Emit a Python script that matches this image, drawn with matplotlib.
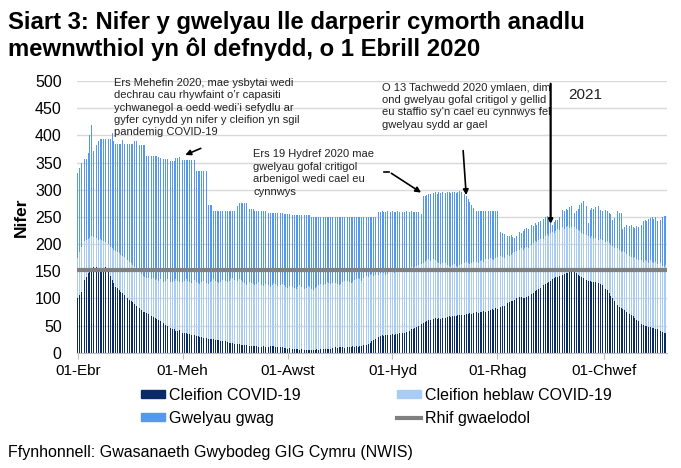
import matplotlib
matplotlib.use('Agg')
import matplotlib.pyplot as plt
from matplotlib.patches import Patch
from matplotlib.lines import Line2D
import numpy as np
import datetime as dt

plt.rcParams['font.family'] = ['Liberation Sans', 'DejaVu Sans']

# Daily values, 1 April 2020 onwards (one row per week)
start_date = dt.date(2020, 4, 1)

covid = [
    100, 106, 112, 122, 134, 140, 146,
    152, 156, 158, 155, 157, 154, 153,
    156, 155, 158, 164, 150, 142, 134,
    128, 122, 119, 116, 112, 110, 107,
    104, 101, 98, 95, 93, 90, 87,
    85, 82, 79, 76, 75, 73, 71,
    70, 68, 66, 65, 63, 61, 58,
    56, 55, 52, 49, 47, 45, 44,
    43, 41, 40, 42, 38, 37, 36,
    36, 35, 34, 33, 32, 33, 31,
    31, 30, 29, 28, 29, 27, 26,
    26, 25, 25, 24, 23, 24, 22,
    22, 21, 22, 20, 19, 19, 18,
    17, 17, 16, 16, 15, 15, 14,
    14, 13, 13, 12, 13, 12, 12,
    11, 12, 11, 12, 11, 10, 11,
    12, 13, 12, 11, 10, 11, 10,
    10, 9, 9, 8, 9, 8, 7,
    8, 7, 7, 6, 7, 6, 6,
    5, 6, 5, 6, 5, 6, 7,
    6, 7, 6, 7, 8, 7, 8,
    8, 9, 8, 10, 9, 10, 11,
    10, 9, 9, 10, 11, 10, 12,
    11, 12, 11, 13, 12, 14, 13,
    15, 17, 19, 22, 24, 26, 28,
    30, 31, 32, 31, 33, 32, 34,
    33, 34, 32, 35, 34, 36, 35,
    37, 36, 38, 39, 41, 43, 44,
    46, 47, 49, 51, 53, 55, 57,
    59, 61, 60, 63, 62, 64, 63,
    64, 63, 64, 66, 65, 66, 67,
    66, 68, 67, 68, 69, 70, 69,
    71, 70, 72, 71, 73, 72, 74,
    73, 75, 74, 76, 75, 77, 76,
    78, 77, 79, 80, 79, 82, 81,
    83, 85, 87, 86, 89, 91, 93,
    95, 96, 98, 100, 99, 103, 102,
    101, 100, 103, 105, 107, 109, 111,
    113, 115, 117, 119, 121, 124, 126,
    128, 130, 133, 135, 137, 139, 140,
    141, 142, 144, 145, 146, 147, 148,
    149, 150, 149, 147, 144, 141, 139,
    137, 136, 134, 133, 132, 131, 130,
    130, 129, 128, 126, 124, 121, 118,
    115, 110, 105, 100, 95, 90, 88,
    85, 82, 80, 78, 76, 74, 72,
    70, 67, 64, 61, 58, 55, 53,
    51, 50, 49, 48, 47, 46, 45,
    44, 43, 41, 40, 38, 37, 36,
]

# all patients in these beds (COVID-19 + non COVID-19)
all_patients = [
    175, 185, 195, 200, 205, 208, 210,
    212, 214, 213, 210, 212, 208, 210,
    208, 206, 204, 206, 200, 195, 192,
    190, 188, 185, 183, 180, 178, 176,
    174, 170, 168, 165, 162, 158, 155,
    150, 148, 145, 142, 140, 138, 137,
    136, 135, 137, 134, 136, 133, 135,
    134, 130, 132, 135, 133, 130, 131,
    133, 135, 132, 130, 128, 131, 133,
    135, 132, 130, 128, 131, 134, 130,
    128, 126, 130, 133, 131, 129, 127,
    130, 132, 135, 133, 130, 128, 131,
    134, 136, 133, 130, 132, 135, 137,
    134, 131, 133, 136, 134, 130, 128,
    125, 128, 131, 129, 126, 124, 127,
    130, 128, 125, 123, 126, 128, 125,
    122, 125, 128, 126, 123, 121, 124,
    127, 125, 122, 120, 123, 125, 122,
    120, 118, 121, 124, 122, 119, 117,
    120, 123, 121, 118, 116, 119, 122,
    124, 126, 128, 125, 127, 130, 128,
    126, 129, 131, 128, 126, 124, 127,
    130, 132, 135, 133, 130, 128, 131,
    134, 136, 138, 135, 133, 137, 140,
    142, 140, 143, 145, 142, 144, 146,
    144, 147, 149, 146, 143, 145, 148,
    150, 148, 146, 149, 152, 150, 147,
    150, 153, 155, 152, 156, 158, 155,
    157, 160, 162, 159, 163, 165, 168,
    170, 172, 169, 171, 173, 170, 168,
    165, 163, 166, 168, 165, 162, 160,
    158, 161, 163, 160, 158, 161, 164,
    162, 165, 168, 166, 163, 165, 168,
    170, 168, 166, 169, 171, 168, 172,
    170, 173, 175, 172, 170, 174, 176,
    175, 178, 176, 174, 177, 180, 178,
    180, 183, 185, 188, 186, 189, 192,
    190, 193, 195, 192, 196, 199, 202,
    205, 203, 208, 210, 213, 210, 215,
    218, 215, 220, 223, 220, 225, 228,
    226, 230, 232, 228, 231, 233, 230,
    232, 229, 231, 228, 226, 224, 220,
    218, 215, 217, 214, 212, 214, 210,
    212, 209, 207, 210, 208, 205, 203,
    205, 202, 199, 196, 193, 190, 192,
    189, 186, 188, 185, 182, 180, 178,
    176, 174, 177, 173, 171, 172, 170,
    168, 171, 169, 166, 170, 167, 165,
    168, 164, 162, 165, 160, 158, 161,
]

# total beds available
beds_available = [
    330, 340, 349, 356, 356, 357, 367,
    401, 419, 372, 382, 382, 389, 393,
    393, 393, 393, 393, 393, 393, 404,
    389, 384, 384, 384, 384, 391, 385,
    385, 385, 385, 385, 385, 390, 390,
    390, 382, 382, 382, 382, 362, 362,
    362, 362, 362, 362, 362, 360, 358,
    356, 356, 356, 356, 352, 352, 352,
    352, 358, 358, 360, 365, 355, 355,
    355, 355, 355, 355, 355, 355, 335,
    335, 335, 335, 335, 335, 335, 272,
    272, 272, 261, 261, 261, 261, 261,
    261, 261, 261, 261, 261, 261, 261,
    261, 270, 270, 275, 275, 275, 275,
    275, 273, 264, 264, 264, 261, 261,
    261, 261, 261, 261, 261, 258, 258,
    258, 258, 258, 258, 258, 258, 258,
    258, 256, 256, 256, 256, 256, 254,
    254, 254, 254, 254, 254, 254, 254,
    254, 254, 254, 250, 250, 250, 250,
    250, 250, 250, 250, 250, 250, 250,
    250, 250, 250, 250, 250, 250, 250,
    250, 250, 250, 250, 250, 250, 250,
    250, 250, 250, 250, 250, 250, 250,
    250, 250, 250, 250, 250, 250, 259,
    259, 259, 260, 259, 259, 260, 259,
    259, 260, 259, 259, 260, 259, 259,
    259, 259, 260, 259, 259, 260, 259,
    259, 259, 259, 259, 256, 288, 288,
    290, 292, 293, 291, 294, 295, 293,
    295, 294, 296, 295, 294, 296, 295,
    294, 296, 295, 294, 296, 297, 296,
    296, 293, 288, 283, 278, 272, 266,
    262, 261, 260, 261, 260, 261, 260,
    260, 261, 260, 260, 261, 260, 260,
    259, 222, 220, 218, 217, 215, 214,
    216, 213, 211, 214, 218, 222, 220,
    225, 228, 230, 228, 232, 235, 233,
    238, 236, 240, 243, 241, 246, 250,
    252, 248, 238, 235, 240, 245, 244,
    250, 258, 262, 260, 265, 263, 268,
    270, 262, 258, 260, 265, 272, 275,
    280, 276, 270, 238, 262, 266, 265,
    268, 266, 270, 262, 260, 258, 262,
    260, 258, 256, 245, 248, 258, 260,
    258, 257, 228, 232, 235, 237, 233,
    235, 232, 230, 233, 231, 234, 236,
    242, 245, 243, 246, 248, 250, 247,
    249, 243, 240, 244, 250, 252, 251,
]

baseline = 152

tick_dates = [dt.date(2020, 4, 1), dt.date(2020, 6, 1), dt.date(2020, 8, 1),
              dt.date(2020, 10, 1), dt.date(2020, 12, 1), dt.date(2021, 2, 1)]
tick_labels = ['01-Ebr', '01-Meh', '01-Awst', '01-Hyd', '01-Rhag', '01-Chwef']

c_covid = '#0B2B66'
c_other = '#A9CCF7'
c_empty = '#5598EE'
c_base = '#808080'

covid_arr = np.array(covid)
non_covid = np.array(all_patients) - covid_arr
empty = np.array(beds_available) - np.array(all_patients)
days = np.arange(len(covid))


def day_of(d):
    return (d - start_date).days


fig = plt.figure(figsize=(6.81, 4.68), dpi=100)
ax = fig.add_axes([0.113, 0.246, 0.866, 0.581])

w = 0.5
ax.bar(days, covid_arr, width=w, color=c_covid, linewidth=0, zorder=2)
ax.bar(days, non_covid, width=w, bottom=covid_arr, color=c_other, linewidth=0, zorder=2)
ax.bar(days, empty, width=w, bottom=covid_arr + non_covid, color=c_empty, linewidth=0, zorder=2)
ax.axhline(baseline, color=c_base, linewidth=3, zorder=3)

ax.set_xlim(-0.5, len(covid) - 0.5)
ax.set_ylim(0, 500)
ax.set_yticks(range(0, 501, 50))
ax.yaxis.grid(True, color='#D9D9D9', linewidth=1, zorder=0)
ax.set_axisbelow(True)
ax.set_xticks([day_of(d) for d in tick_dates])
ax.set_xticklabels(tick_labels)
ax.tick_params(axis='y', length=0, labelsize=11.5, pad=11)
ax.tick_params(axis='x', length=4, color='#BFBFBF', labelsize=11, pad=4)
for s in ['top', 'right', 'left']:
    ax.spines[s].set_visible(False)
ax.spines['bottom'].set_color('#BFBFBF')
ax.set_ylabel('Nifer', fontsize=12.5, fontweight='bold', labelpad=4)

# annotations
ann = dict(fontsize=8, color='#222222', va='top', ha='left', linespacing=1.3)
ax.text(21, 506, "Ers Mehefin 2020, mae ysbytai wedi\ndechrau cau rhywfaint o\u2019r capasiti\n"
        "ychwanegol a oedd wedi\u2019i sefydlu ar\ngyfer cynydd yn nifer y cleifion yn sgil\n"
        "pandemig COVID-19", **ann)
ax.annotate('', xy=(61, 362), xytext=(73, 378),
            arrowprops=dict(arrowstyle='-|>', color='black', lw=1.2, mutation_scale=8))

ax.text(102, 374, "Ers 19 Hydref 2020 mae\ngwelyau gofal critigol\narbenigol wedi cael eu\ncynnwys", **ann)
ax.plot([178, 181], [333, 333], color='black', lw=1.2)
ax.annotate('', xy=(201, 292), xytext=(181, 333),
            arrowprops=dict(arrowstyle='-|>', color='black', lw=1.2, mutation_scale=8))

ax.text(177, 497, "O 13 Tachwedd 2020 ymlaen, dim\nond gwelyau gofal critigol y gellid\n"
        "eu staffio sy\u2019n cael eu cynnwys fel\ngwelyau sydd ar gael", **ann)
ax.annotate('', xy=(226, 285), xytext=(224, 377),
            arrowprops=dict(arrowstyle='-|>', color='black', lw=1.2, mutation_scale=8))

jan1 = day_of(dt.date(2021, 1, 1))
ax.annotate('', xy=(jan1, 232), xytext=(jan1, 500),
            arrowprops=dict(arrowstyle='-|>', color='black', lw=1.6, mutation_scale=6))
ax.text(jan1 + 10, 475, '2021', fontsize=11, color='#222222', va='center')

fig.text(0.012, 0.976, "Siart 3: Nifer y gwelyau lle darperir cymorth anadlu\n"
         "mewnwthiol yn \u00f4l defnydd, o 1 Ebrill 2020",
         fontsize=17.2, fontweight='bold', va='top', ha='left', linespacing=1.18)

handles = [Patch(color=c_covid), Patch(color=c_empty),
           Patch(color=c_other), Line2D([0], [0], color=c_base, lw=3)]
labels = ['Cleifion COVID-19', 'Gwelyau gwag', 'Cleifion heblaw COVID-19', 'Rhif gwaelodol']
fig.legend(handles, labels, ncol=2, loc='upper left', bbox_to_anchor=(0.196, 0.188),
           frameon=False, fontsize=11.5, handlelength=1.5, handleheight=0.4,
           handletextpad=0.25, columnspacing=6.0, labelspacing=0.5, borderpad=0)

fig.text(0.012, 0.034, 'Ffynhonnell: Gwasanaeth Gwybodeg GIG Cymru (NWIS)', fontsize=11.5,
         ha='left', va='center')

fig.savefig('out.png', dpi=100)
